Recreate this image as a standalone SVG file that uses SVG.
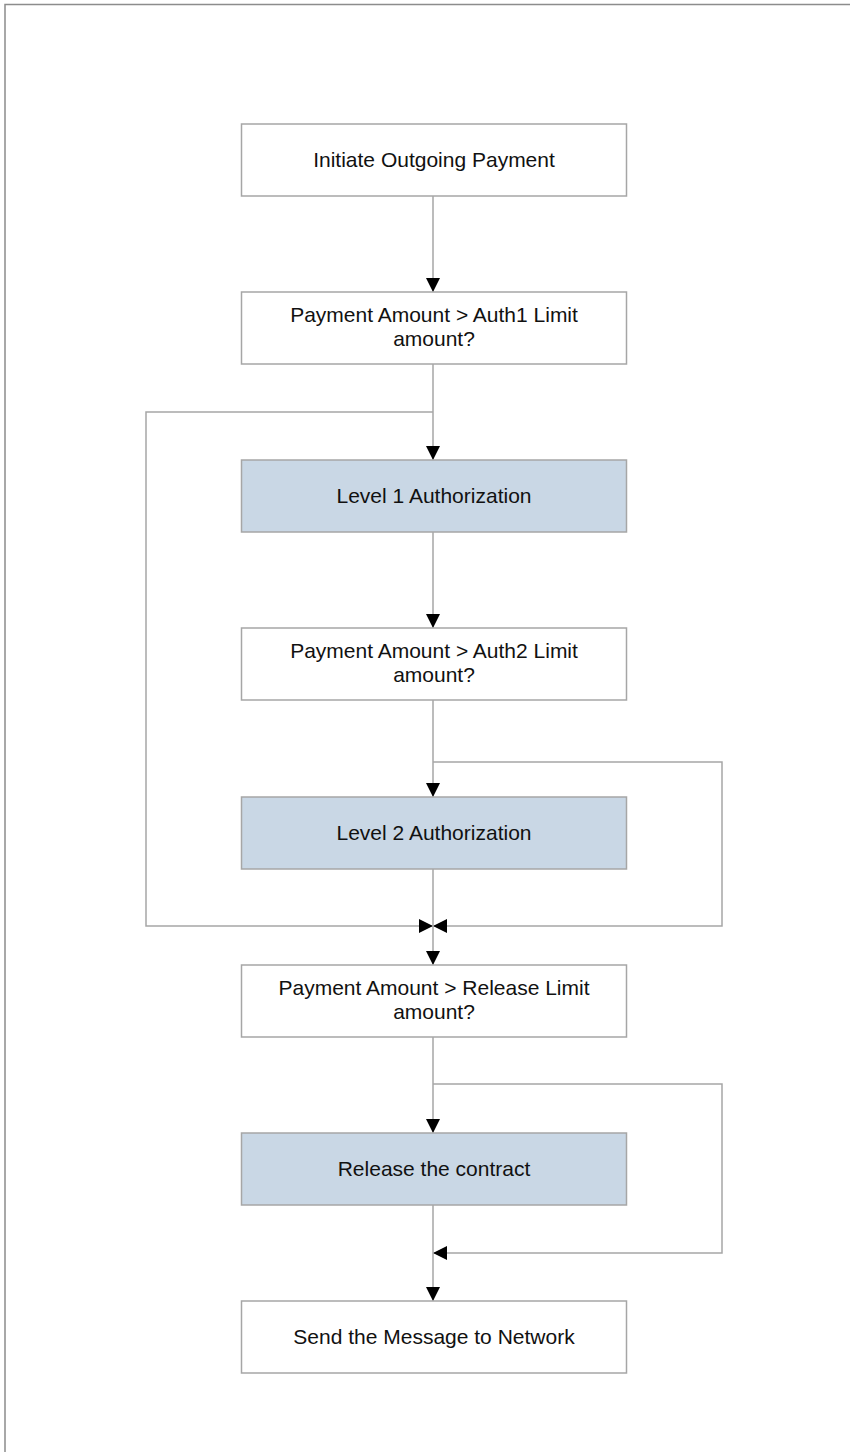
<svg xmlns="http://www.w3.org/2000/svg" width="850" height="1452" viewBox="0 0 850 1452">
<style>
.box{fill:#ffffff;stroke:#a6a6a6;stroke-width:1.5}
.auth{fill:#c9d7e5;stroke:#a6a6a6;stroke-width:1.5}
.t{font-family:"Liberation Sans",Arial,sans-serif;font-size:21px;fill:#111111;text-anchor:middle}
.c{fill:none;stroke:#a6a6a6;stroke-width:1.5}
</style>
<defs>
<marker id="ah" viewBox="0 0 14 14" refX="14" refY="7" markerWidth="14" markerHeight="14" markerUnits="userSpaceOnUse" orient="auto">
<path d="M0,0 L14,7 L0,14 Z" fill="#000"/>
</marker>
</defs>
<rect width="850" height="1452" fill="#ffffff"/>
<path d="M5,1452 V4.5 H850" fill="none" stroke="#8c8c8c" stroke-width="1.5"/>
<g id="connectors">
<path class="c" d="M433,196 V292" marker-end="url(#ah)"/>
<path class="c" d="M433,364 V460" marker-end="url(#ah)"/>
<path class="c" d="M433,412 H146 V926 H433" marker-end="url(#ah)"/>
<path class="c" d="M433,532 V628" marker-end="url(#ah)"/>
<path class="c" d="M433,700 V797" marker-end="url(#ah)"/>
<path class="c" d="M433,762 H722 V926 H433" marker-end="url(#ah)"/>
<path class="c" d="M433,869 V965" marker-end="url(#ah)"/>
<path class="c" d="M433,1037 V1133" marker-end="url(#ah)"/>
<path class="c" d="M433,1084 H722 V1253 H433" marker-end="url(#ah)"/>
<path class="c" d="M433,1205 V1301" marker-end="url(#ah)"/>
</g>
<g id="n1"><rect class="box" x="241.5" y="124" width="385" height="72"/><text class="t" x="434" y="167">Initiate Outgoing Payment</text></g>
<g id="n2"><rect class="box" x="241.5" y="292" width="385" height="72"/><text class="t" x="434" y="322">Payment Amount &gt; Auth1 Limit</text><text class="t" x="434" y="346">amount?</text></g>
<g id="n3"><rect class="auth" x="241.5" y="460" width="385" height="72"/><text class="t" x="434" y="503">Level 1 Authorization</text></g>
<g id="n4"><rect class="box" x="241.5" y="628" width="385" height="72"/><text class="t" x="434" y="658">Payment Amount &gt; Auth2 Limit</text><text class="t" x="434" y="682">amount?</text></g>
<g id="n5"><rect class="auth" x="241.5" y="797" width="385" height="72"/><text class="t" x="434" y="840">Level 2 Authorization</text></g>
<g id="n6"><rect class="box" x="241.5" y="965" width="385" height="72"/><text class="t" x="434" y="995">Payment Amount &gt; Release Limit</text><text class="t" x="434" y="1019">amount?</text></g>
<g id="n7"><rect class="auth" x="241.5" y="1133" width="385" height="72"/><text class="t" x="434" y="1176">Release the contract</text></g>
<g id="n8"><rect class="box" x="241.5" y="1301" width="385" height="72"/><text class="t" x="434" y="1344">Send the Message to Network</text></g>
</svg>
